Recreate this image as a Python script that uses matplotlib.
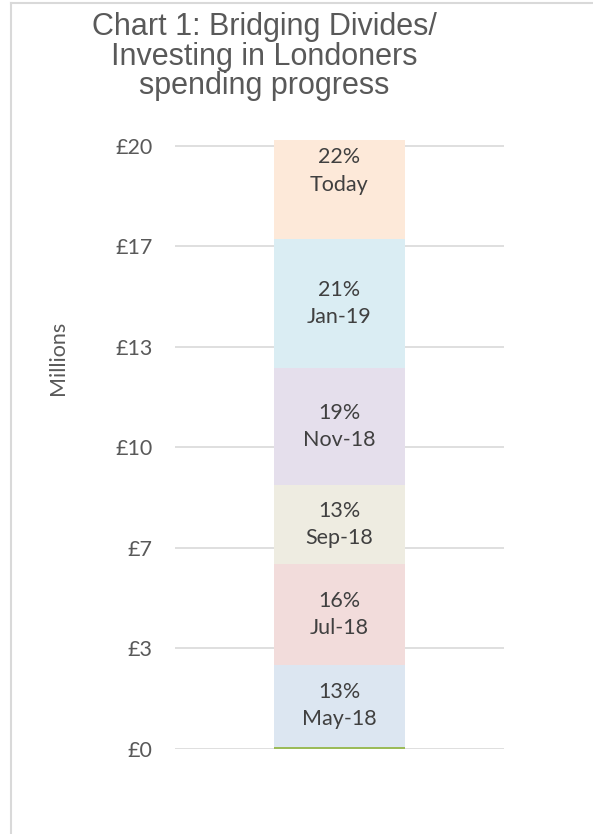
import matplotlib.pyplot as plt
from matplotlib.lines import Line2D
from matplotlib.ticker import FuncFormatter

# Data for the stacked bar (values in £ millions)
periods = ["Start", "May-18", "Jul-18", "Sep-18", "Nov-18", "Jan-19", "Today"]
values = [0.07, 2.71, 3.36, 2.61, 3.89, 4.27, 4.5]
shares = ["", "13%", "16%", "13%", "19%", "21%", "22%"]
colors = ["#9BBB59", "#DCE6F1", "#F2DCDB", "#EEECE1", "#E5DFEC", "#DAEDF3", "#FDE9D9"]
tick_values = [0, 20 / 6, 40 / 6, 10, 80 / 6, 100 / 6, 20]

W, H = 593, 834
fig = plt.figure(figsize=(W / 100, H / 100), dpi=100)
ax = fig.add_axes([175 / W, (H - 748.7) / H, 329 / W, 608.7 / H])

bottom = 0
for name, val, share, col in zip(periods, values, shares, colors):
    ax.bar(0, val, bottom=bottom, width=0.4, color=col, zorder=2)
    if share:
        ax.text(0, bottom + val / 2, f"{share}\n{name}", ha="center", va="center",
                fontsize=15.5, color="#404040", family="Lato", linespacing=1.45, zorder=3)
    bottom += val

ax.set_xlim(-0.5, 0.5)
ax.set_ylim(0, 20.19)
ax.set_yticks(tick_values)
ax.yaxis.set_major_formatter(FuncFormatter(lambda v, p: f"£{v:.0f}"))
ax.set_xticks([])
ax.tick_params(axis="y", length=0, pad=16, labelsize=15.5, labelcolor="#595959")
for lab in ax.get_yticklabels():
    lab.set_family("Lato")
ax.grid(axis="y", color="#D9D9D9", linewidth=1.2, zorder=0)
ax.set_axisbelow(True)
for s in ax.spines.values():
    s.set_visible(False)

fig.text(58 / W, 1 - 358 / H, "Millions", rotation=90, ha="center", va="center",
         fontsize=15.5, color="#595959", family="Lato")

fig.text(264 / W, 1 - 12 / H, "Chart 1: Bridging Divides/\nInvesting in Londoners\nspending progress",
         ha="center", va="top", fontsize=22, color="#595959", family="Liberation Sans",
         linespacing=0.98)

# chart border
fig.add_artist(Line2D([11 / W, 11 / W], [0, 1 - 3 / H], color="#D9D9D9", linewidth=1.5))
fig.add_artist(Line2D([11 / W, 1], [1 - 3 / H, 1 - 3 / H], color="#D9D9D9", linewidth=1.5))

fig.savefig("out.png", dpi=100)
